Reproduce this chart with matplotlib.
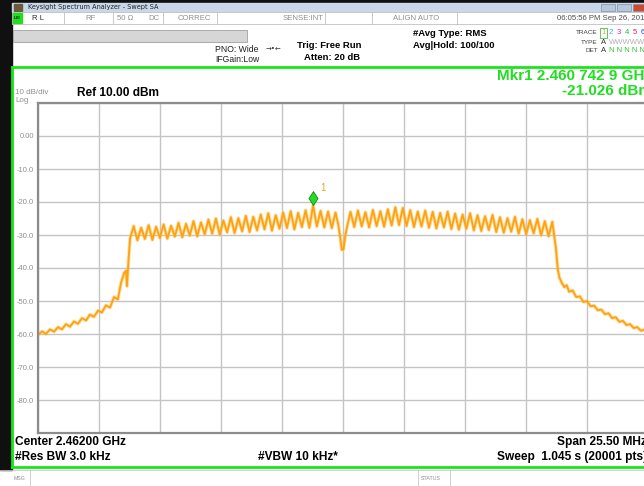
import numpy as np
import matplotlib
matplotlib.use("Agg")
import matplotlib.pyplot as plt
from matplotlib.patches import Rectangle
from matplotlib.path import Path

plt.rcParams['font.family'] = ['Liberation Sans', 'DejaVu Sans']

# sweep settings (MHz)
center_mhz = 2462.0
span_mhz = 25.5
sc_mhz = 0.3125  # OFDM subcarrier spacing

# left skirt: offset from center (MHz), level (dBm)
skirt_l_f = [-12.75, -12.58, -12.42, -12.25, -12.08, -11.91, -11.75, -11.58,
             -11.41, -11.25, -11.08, -10.91, -10.74, -10.58, -10.41, -10.24,
             -10.08, -9.91, -9.74, -9.57, -9.41, -9.28, -9.15, -9.07, -9.03,
             -8.97, -8.90]
skirt_l_db = [-60.3, -59.2, -60.0, -58.6, -59.3, -57.9, -58.6, -57.0,
              -57.8, -56.2, -56.9, -55.2, -55.9, -54.1, -54.8, -52.9,
              -53.5, -51.3, -52.0, -48.8, -49.5, -44.5, -41.5, -40.8, -45.5,
              -38.0, -31.0]

# subcarrier peaks k=-28..-1 and troughs between them
peaks_l = [-27.3, -27.8, -27.0, -27.5, -26.8, -27.2, -26.3, -26.6, -25.8, -26.2,
           -25.3, -25.0, -25.6, -24.6, -24.9, -24.2, -24.5, -23.8, -23.4, -24.0,
           -23.2, -22.8, -23.3, -22.5, -21.0, -22.7, -22.9, -23.2]
troughs_l = [-31.6, -31.2, -31.5, -30.9, -31.1, -30.5, -30.7, -30.2, -30.4,
             -29.8, -29.6, -29.9, -29.2, -29.4, -28.9, -29.1, -28.6, -28.3,
             -28.7, -28.1, -27.9, -28.3, -27.6, -27.8, -27.4, -27.7, -27.9]

# DC null
notch_f = [-0.20, -0.12, -0.05, 0.02, 0.10, 0.19]
notch_db = [-26.8, -30.5, -34.5, -34.3, -30.0, -26.9]

# subcarrier peaks k=1..28 and troughs between them
peaks_r = [-23.0, -22.6, -23.1, -22.4, -22.8, -22.2, -21.6, -21.8, -22.5, -22.9,
           -22.6, -23.0, -23.3, -22.9, -23.5, -23.8, -23.4, -24.0, -24.3, -23.9,
           -24.6, -24.9, -24.5, -25.2, -25.5, -25.1, -25.8, -26.0]
troughs_r = [-27.6, -27.4, -27.7, -27.3, -27.5, -27.1, -27.0, -27.3, -27.6,
             -27.4, -27.8, -28.0, -27.7, -28.2, -28.4, -28.1, -28.6, -28.8,
             -28.5, -29.1, -29.3, -29.0, -29.6, -29.8, -29.5, -30.1, -30.4]

# right skirt
skirt_r_f = [8.90, 8.98, 9.05, 9.15, 9.25, 9.35, 9.45, 9.60, 9.75, 9.90, 10.05,
             10.20, 10.35, 10.50, 10.65, 10.80, 10.95, 11.10, 11.25, 11.40,
             11.55, 11.70, 11.85, 12.00, 12.15, 12.30, 12.45, 12.60, 12.75]
skirt_r_db = [-34.0, -40.5, -43.0, -44.5, -45.8, -45.2, -47.2, -46.8, -48.8,
              -48.6, -50.3, -50.0, -51.6, -51.4, -52.8, -52.6, -54.0, -53.7,
              -55.2, -54.9, -56.3, -56.0, -57.3, -57.0, -58.2, -57.9, -59.0,
              -58.7, -59.8]

mkr_mhz = 2460.7429
mkr_dbm = -21.026


def band(ks, peaks, troughs):
    f, v = [], []
    for i, k in enumerate(ks):
        f.append(k * sc_mhz)
        v.append(peaks[i])
        if i < len(troughs):
            f.append((k + 0.5) * sc_mhz)
            v.append(troughs[i])
    return f, v


fl, vl = band(range(-28, 0), peaks_l, troughs_l)
fr, vr = band(range(1, 29), peaks_r, troughs_r)
freq = np.array(skirt_l_f + fl + notch_f + fr + skirt_r_f)
level = np.array(skirt_l_db + vl + notch_db + vr + skirt_r_db)

W, H = 644, 486
fig = plt.figure(figsize=(W / 100, H / 100), dpi=100)
fig.patch.set_facecolor('white')

# window chrome drawn in pixel units
bg = fig.add_axes([0, 0, 1, 1])
bg.set_xlim(0, W)
bg.set_ylim(H, 0)
bg.axis('off')

green = '#19e619'
bg.add_patch(Rectangle((0, 0), W, 3, color='#101010'))
bg.add_patch(Rectangle((0, 0), 12, 470, color='#101010'))
bg.add_patch(Rectangle((12, 3), W, 9, color='#c8d8ea'))
bg.add_patch(Rectangle((14, 4), 8, 7, color='#6a5a3a'))
bg.text(28, 7.5, 'Keysight Spectrum Analyzer - Swept SA', fontsize=4.7,
        va='center', color='#202020', family=['DejaVu Sans'])
for bx, c in [(601, '#b8c8dc'), (617, '#b8c8dc'), (633, '#d04830')]:
    bg.add_patch(Rectangle((bx, 4), 14, 7, facecolor=c, edgecolor='#8090a8', lw=0.5))

# status row
bg.add_patch(Rectangle((12, 12), W, 12, facecolor='white', edgecolor='#c0c0c0', lw=0.6))
bg.add_patch(Rectangle((13, 13), 9, 10, color='#22dd22'))
bg.text(17.5, 18, 'LXI', fontsize=3.2, ha='center', va='center', color='#103010',
        fontweight='bold')
for dx in [64, 113, 163, 217, 325, 372, 457]:
    bg.plot([dx, dx], [12, 24], color='#c0c0c0', lw=0.6)
status = [(32, 'R L', '#303030'), (85, 'RF', '#909090'), (117, '50 Ω', '#909090'),
          (148, 'DC', '#909090'), (178, 'CORREC', '#909090'),
          (283, 'SENSE:INT', '#909090'), (393, 'ALIGN AUTO', '#909090'),
          (557, '06:05:56 PM Sep 26, 2019', '#505050')]
for sx, s, c in status:
    bg.text(sx, 18, s, fontsize=5.6, va='center', color=c)

bg.add_patch(Rectangle((13, 30), 234, 12, facecolor='#d6d6d6', edgecolor='#a0a0a0', lw=0.6))

# instrument settings
bg.text(215, 49, 'PNO: Wide', fontsize=6.2, va='center', color='#202020')
bg.text(215, 60, 'IFGain:Low', fontsize=6.2, va='center', color='#202020')
bg.text(266, 49, '→•←', fontsize=5, va='center', color='#303030', family=['DejaVu Sans'])
bg.text(297, 45, 'Trig: Free Run', fontsize=6.8, va='center', fontweight='bold')
bg.text(304, 57, 'Atten: 20 dB', fontsize=6.8, va='center', fontweight='bold')
bg.text(413, 34, '#Avg Type: RMS', fontsize=6.8, va='center', fontweight='bold')
bg.text(413, 45, 'Avg|Hold: 100/100', fontsize=6.8, va='center', fontweight='bold')
bg.text(598, 33, 'TRACE', fontsize=4.6, va='center', ha='right', color='#404040')
bg.text(598, 42, 'TYPE', fontsize=4.6, va='center', ha='right', color='#404040')
bg.text(598, 51, 'DET', fontsize=4.6, va='center', ha='right', color='#404040')
bg.add_patch(Rectangle((600, 28), 7, 10, facecolor='none', edgecolor='#40c040', lw=0.6))
for i, c in enumerate(['#e8a020', '#20c0e0', '#e020e0', '#20c020', '#e02060', '#2040e0']):
    bg.text(601 + i * 8, 33, str(i + 1), fontsize=5.5, va='center', color=c)
bg.text(601, 42, 'A', fontsize=5.5, va='center', color='#303030')
bg.text(609, 42, 'WWWWW', fontsize=5.5, va='center', color='#b0b0b0')
bg.text(601, 51, 'A', fontsize=5.5, va='center', color='#303030')
bg.text(609, 51, 'N N N N N', fontsize=5.5, va='center', color='#30c030')

# green display frame
bg.plot([12.5, W], [67, 67], color=green, lw=2)
bg.plot([12.5, W], [467, 467], color=green, lw=2)
bg.plot([12.5, 12.5], [67, 467], color=green, lw=2)

# message bar
bg.plot([0, W], [470, 470], color='#c8c8c8', lw=0.6)
for dx in [30, 418, 450]:
    bg.plot([dx, dx], [470, H], color='#c8c8c8', lw=0.6)
bg.text(14, 478, 'MSG', fontsize=3.8, va='center', color='#909090')
bg.text(421, 478, 'STATUS', fontsize=3.8, va='center', color='#909090')

# readouts
bg.text(497, 76, 'Mkr1 2.460 742 9 GHz', fontsize=11, va='center', color='#22dd22',
        fontweight='bold')
bg.text(562, 91, '-21.026 dBm', fontsize=11, va='center', color='#22dd22',
        fontweight='bold')
bg.text(15, 92.5, '10 dB/div', fontsize=5.8, va='center', color='#909090')
bg.text(15, 100.5, 'Log', fontsize=5.8, va='center', color='#909090')
bg.text(77, 93.5, 'Ref 10.00 dBm', fontsize=8.6, va='center', fontweight='bold')
bg.text(15, 442, 'Center 2.46200 GHz', fontsize=8.6, va='center', fontweight='bold')
bg.text(15, 457, '#Res BW 3.0 kHz', fontsize=8.6, va='center', fontweight='bold')
bg.text(258, 457, '#VBW 10 kHz*', fontsize=8.6, va='center', fontweight='bold')
bg.text(557, 442, 'Span 25.50 MHz', fontsize=8.6, va='center', fontweight='bold')
bg.text(497, 457, 'Sweep  1.045 s (20001 pts)', fontsize=8.6, va='center', fontweight='bold')

# graticule
ax = fig.add_axes([38 / W, 1 - 433 / H, 610 / W, 330 / H])
ax.set_xlim(center_mhz - span_mhz / 2, center_mhz + span_mhz / 2)
ax.set_ylim(-90, 10)
ax.set_xticks(center_mhz + np.arange(-5, 6) * span_mhz / 10)
ax.set_xticklabels([])
yt = np.arange(-90, 11, 10)
ax.set_yticks(yt)
ax.set_yticklabels(['' if (v == 10 or v == -90) else ('0.00' if v == 0 else f'{v:.1f}')
                    for v in yt])
ax.tick_params(length=0, pad=3, labelsize=5.5, labelcolor='#909090')
ax.grid(True, color='#c4c4c4', lw=1)
for s in ax.spines.values():
    s.set_color('#8c8c8c')
    s.set_linewidth(1.6)

f_abs = center_mhz + freq
ax.plot(f_abs, level, color='#ffbe4d', lw=2.6, alpha=0.5, solid_joinstyle='round')
ax.plot(f_abs, level, color='#ffa20f', lw=1.3, solid_joinstyle='round')

# marker 1 sitting on the trace
diamond = Path([(0, 0), (-0.65, 1), (0, 2), (0.65, 1), (0, 0)])
ax.plot([mkr_mhz], [mkr_dbm], marker=diamond, ms=20, color='#22dd22',
        markeredgecolor='#118811', markeredgewidth=0.6)
ax.annotate('1', (mkr_mhz, mkr_dbm), xytext=(5, 10), textcoords='offset points',
            fontsize=7, color='#f0a020')

fig.savefig('out.png', dpi=100)
